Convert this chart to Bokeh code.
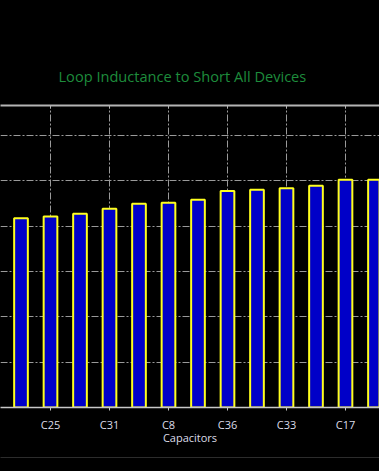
from bokeh.plotting import figure
from bokeh.models import (Range1d, FixedTicker, LinearAxis,
                          GlobalInlineStyleSheet, ColumnDataSource)
from bokeh.embed import file_html
from bokeh.resources import INLINE

# ---- data ----
categories = ["C?a", "C25", "C?b", "C31", "C?c", "C8", "C?d", "C36", "C?e", "C33", "C?f", "C17", "C?g"]
inductance = [4.17, 4.21, 4.27, 4.38, 4.49, 4.51, 4.58, 4.77, 4.80, 4.83, 4.89, 5.02, 5.02]
tick_labels = ["C25", "C31", "C8", "C36", "C33", "C17"]
title_text = "Loop Inductance to Short All Devices"
x_label = "Capacitors"

xs = list(range(len(categories)))
tick_pos = [categories.index(t) for t in tick_labels]

src = ColumnDataSource(dict(x=xs, top=inductance, name=categories))

p = figure(width=379, height=471,
           x_range=Range1d(-0.695, 12.153), y_range=Range1d(0, 6.656),
           output_backend="svg", toolbar_location=None,
           background_fill_color="black", border_fill_color="black",
           min_border_left=0, min_border_right=0,
           min_border_top=105, min_border_bottom=64,
           x_axis_location=None, y_axis_location=None,
           title=title_text)
p.outline_line_color = None
p.stylesheets = [GlobalInlineStyleSheet(css="html, body { background: #000 !important; }")]

p.title.align = "left"
p.title.offset = 58
p.title.text_color = "#1e8c3c"
p.title.text_font = "Open Sans"
p.title.text_font_size = "14.6px"
p.title.text_font_style = "normal"
p.title.standoff = 40

p.vbar(x="x", top="top", bottom=0, width=0.464, source=src,
       fill_color="#0000c8", line_color="#ffff1e", line_width=2)

# grids (dash-dot, gray)
p.xgrid.ticker = FixedTicker(ticks=tick_pos)
p.ygrid.ticker = FixedTicker(ticks=[1, 2, 3, 4, 5, 6])
for g in (p.xgrid, p.ygrid):
    g.grid_line_color = "#9a9a9a"
    g.grid_line_dash = "7 2 2 2"
    g.grid_line_width = 1

# bottom axis
xax = LinearAxis(ticker=FixedTicker(ticks=tick_pos),
                 major_label_overrides={i: t for i, t in zip(tick_pos, tick_labels)},
                 axis_label=x_label)
xax.axis_line_color = "#c8c8c8"
xax.axis_line_width = 1.5
xax.major_tick_line_color = "#c8c8c8"
xax.major_tick_out = 3
xax.major_tick_in = 0
xax.minor_tick_line_color = None
xax.major_label_text_color = "#dcdce8"
xax.major_label_text_font = "Open Sans"
xax.major_label_text_font_size = "11px"
xax.major_label_standoff = 6
xax.axis_label_text_color = "#dcdce8"
xax.axis_label_text_font = "Open Sans"
xax.axis_label_text_font_size = "11px"
xax.axis_label_text_font_style = "normal"
xax.axis_label_standoff = -5
p.add_layout(xax, "below")

# spacer + faint outer line at the bottom
spacer = LinearAxis(ticker=FixedTicker(ticks=[]), axis_label=" ")
spacer.axis_line_color = None
spacer.major_tick_out = 0
spacer.major_tick_in = 0
spacer.major_label_text_font_size = "0px"
spacer.axis_label_text_font_size = "11px"
spacer.axis_label_standoff = -5
p.add_layout(spacer, "below")

edge = LinearAxis(ticker=FixedTicker(ticks=[]))
edge.axis_line_color = "#2c2c2c"
edge.axis_line_width = 1
edge.major_tick_out = 0
edge.major_tick_in = 0
edge.major_label_text_font_size = "0px"
p.add_layout(edge, "below")

# top frame line with inward ticks
tax = LinearAxis(ticker=FixedTicker(ticks=tick_pos),
                 major_label_overrides={i: "" for i in tick_pos})
tax.axis_line_color = "#b4b4b4"
tax.axis_line_width = 2
tax.major_tick_line_color = "#b4b4b4"
tax.major_tick_in = 3
tax.major_tick_out = 0
tax.minor_tick_line_color = None
tax.major_label_text_font_size = "0px"
tax.major_label_standoff = 0
p.add_layout(tax, "above")

open("out.html", "w").write(file_html(p, INLINE))
